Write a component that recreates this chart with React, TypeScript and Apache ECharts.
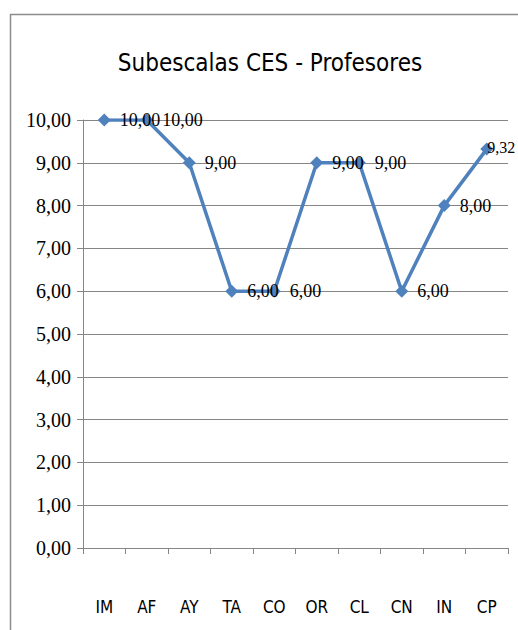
import React, { useEffect, useRef } from "react";
import * as echarts from "echarts";

const categories = ["IM", "AF", "AY", "TA", "CO", "OR", "CL", "CN", "IN", "CP"];
const values = [10, 10, 9, 6, 6, 9, 9, 6, 8, 9.32];
const titleText = "Subescalas CES - Profesores";

const fmt = (v: number) => v.toFixed(2).replace(".", ",");
const narrow = "DejaVu Sans Condensed, Liberation Sans Narrow, Liberation Sans, sans-serif";

export default function App() {
  const ref = useRef<HTMLDivElement>(null);
  useEffect(() => {
    if (!ref.current) return;
    const chart = echarts.init(ref.current, undefined, { renderer: "svg" });
    chart.setOption({
      animation: false,
      backgroundColor: "#ffffff",
      title: {
        text: titleText,
        left: 265,
        textAlign: "center",
        top: 46,
        textStyle: {
          fontFamily: narrow,
          fontSize: 24,
          fontWeight: "normal",
          color: "#000000",
        },
      },
      graphic: [
        {
          type: "rect",
          shape: { x: 10.5, y: 14.5, width: 540, height: 640 },
          style: { fill: "none", stroke: "#8c8c8c", lineWidth: 1.5 },
          silent: true,
        },
      ],
      grid: { left: 83, right: 10, top: 120, bottom: 82 },
      xAxis: {
        type: "category",
        data: categories,
        boundaryGap: true,
        axisLine: { show: true, lineStyle: { color: "#868686", width: 1 } },
        axisTick: { show: true, alignWithLabel: false, length: 6, lineStyle: { color: "#868686" } },
        axisLabel: {
          margin: 50,
          fontFamily: narrow,
          fontSize: 17,
          color: "#000000",
        },
      },
      yAxis: {
        type: "value",
        min: 0,
        max: 10,
        interval: 1,
        axisLine: { show: true, lineStyle: { color: "#868686", width: 1 } },
        axisTick: { show: true, length: 6, lineStyle: { color: "#868686" } },
        splitLine: { show: true, lineStyle: { color: "#868686", width: 1 } },
        axisLabel: {
          margin: 12,
          formatter: (v: number) => fmt(v),
          fontFamily: "Liberation Serif, serif",
          fontSize: 20,
          color: "#000000",
        },
      },
      series: [
        {
          type: "line",
          data: values.map((v, i) =>
            i === values.length - 1
              ? { value: v, label: { distance: 0, offset: [-6, -2], fontSize: 16 } }
              : v
          ),
          symbol: "diamond",
          symbolSize: 13,
          lineStyle: { color: "#4F81BD", width: 3.5 },
          itemStyle: { color: "#4F81BD" },
          label: {
            show: true,
            position: "right",
            distance: 9,
            formatter: (p: any) => fmt(p.value),
            fontFamily: "Liberation Serif, serif",
            fontSize: 18,
            color: "#000000",
          },
        },
      ],
    });
    return () => chart.dispose();
  }, []);
  return (
    <div
      ref={ref}
      style={{ position: "absolute", left: 0, top: 0, width: 518, height: 630 }}
    />
  );
}
